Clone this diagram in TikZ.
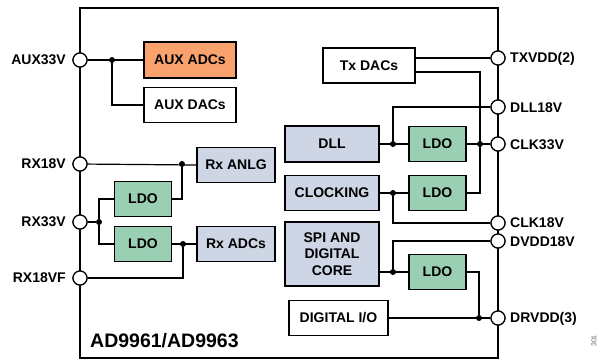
\documentclass[tikz,border=0pt]{standalone}
\usepackage{fontspec}
\setmainfont{Liberation Sans}
\definecolor{orangefill}{RGB}{250,162,110}
\definecolor{bluefill}{RGB}{206,213,228}
\definecolor{greenfill}{RGB}{155,207,180}
\begin{document}
\begin{tikzpicture}[x=1pt,y=-1pt,
  font=\fontsize{14}{16.7}\selectfont\bfseries,
  blk/.style={draw,line width=1.4pt,inner sep=0pt,align=center},
  ldo/.style={blk,fill=greenfill,minimum width=57pt,minimum height=35pt},
  bluebox/.style={blk,fill=bluefill},
  pinc/.style={circle,draw,fill=white,line width=1.2pt,minimum size=14pt,inner sep=0pt},
  dot/.style={circle,fill=black,minimum size=6pt,inner sep=0pt},
  wire/.style={line width=1.2pt},
  lbl/.style={inner sep=0pt}]
\useasboundingbox (0,0) rectangle (599,360);
% outer box
\draw[line width=1.6pt] (80,8) rectangle (498,358);
% boxes
\node[blk,fill=orangefill,minimum width=92pt,minimum height=36pt] (auxadc) at (190,60) {AUX ADCs};
\node[blk,fill=white,minimum width=92pt,minimum height=35pt] (auxdac) at (190,105) {AUX DACs};
\node[bluebox,minimum width=78pt,minimum height=35pt] (rxanlg) at (236,165) {Rx ANLG};
\node[bluebox,minimum width=78pt,minimum height=35pt] (rxadc) at (236,244) {Rx ADCs};
\node[ldo] (ldoa) at (143,199) {LDO};
\node[ldo] (ldob) at (143,244) {LDO};
\node[blk,fill=white,minimum width=92pt,minimum height=35pt] (txdac) at (369,65.5) {Tx DACs};
\node[bluebox,minimum width=94pt,minimum height=36pt] (dll) at (332,144) {DLL};
\node[ldo] (ldodll) at (437.5,144) {LDO};
\node[bluebox,minimum width=94pt,minimum height=35pt] (clk) at (332,193) {CLOCKING};
\node[ldo] (ldoclk) at (437.5,193) {LDO};
\node[bluebox,minimum width=94pt,minimum height=64pt] (spi) at (332,254) {SPI AND\\DIGITAL\\CORE};
\node[ldo] (ldospi) at (437.5,272) {LDO};
\node[blk,fill=white,minimum width=99pt,minimum height=35pt] (dio) at (338.5,318) {DIGITAL I/O};
% pins
\node[pinc] (paux) at (80,60) {};
\node[pinc] (prx18) at (80,164) {};
\node[pinc] (prx33) at (80,222) {};
\node[pinc] (prx18f) at (80,278) {};
\node[pinc] (ptx) at (498,58) {};
\node[pinc] (pdll) at (498,107) {};
\node[pinc] (pclk33) at (498,144) {};
\node[pinc] (pclk18) at (498,223) {};
\node[pinc] (pdvdd) at (498,241) {};
\node[pinc] (pdrvdd) at (498,318) {};
% pin labels
\node[lbl,anchor=east] (laux) at (66,60) {AUX33V};
\node[lbl,anchor=east] (lrx18) at (66,164) {RX18V};
\node[lbl,anchor=east] (lrx33) at (66,222) {RX33V};
\node[lbl,anchor=east] (lrx18f) at (66,278) {RX18VF};
\node[lbl,anchor=west] (ltx) at (510,59) {TXVDD(2)};
\node[lbl,anchor=west] (ldll) at (510,108) {DLL18V};
\node[lbl,anchor=west] (lclk33) at (510,145) {CLK33V};
\node[lbl,anchor=west] (lclk18) at (510,223) {CLK18V};
\node[lbl,anchor=west] (ldvdd) at (510,242) {DVDD18V};
\node[lbl,anchor=west] (ldrvdd) at (510,319) {DRVDD(3)};
% title
\node[lbl,anchor=base west,font=\fontsize{19.5}{22}\selectfont\bfseries] (title) at (90,347) {AD9961/AD9963};
\node[lbl,rotate=90,font=\fontsize{7}{8}\selectfont,text=black!60] (fig) at (594,341) {301};
% dots
\node[dot] (d1) at (112,60) {};
\node[dot] (d2) at (182,164) {};
\node[dot] (d3) at (99,222) {};
\node[dot] (d4) at (183,244) {};
\node[dot] (d5) at (393,144) {};
\node[dot] (d6) at (480,144) {};
\node[dot] (d7) at (393,193) {};
\node[dot] (d8) at (393,272) {};
\node[dot] (d9) at (479,318) {};
% wires
\draw[wire] (paux) -- (auxadc.west);
\draw[wire] (d1) |- (auxdac.west);
\draw[wire] (prx18) -- (rxanlg.west);
\draw[wire] (ldoa.east) -| (d2);
\draw[wire] (prx33) -- (d3);
\draw[wire] (d3) |- (ldoa.west);
\draw[wire] (d3) |- (ldob.west);
\draw[wire] (ldob.east) -- (rxadc.west);
\draw[wire] (d4) |- (prx18f);
\draw[wire] (txdac.east |- ptx) -- (ptx);
\coordinate (txb) at (txdac.east |- 0,72);
\draw[wire] (txb) -| (d6);
\draw[wire] (d6) |- (ldoclk.east);
\draw[wire] (pdll) -| (d5);
\draw[wire] (dll.east) -- (ldodll.west);
\draw[wire] (ldodll.east) -- (pclk33);
\draw[wire] (clk.east) -- (ldoclk.west);
\draw[wire] (d7) |- (pclk18);
\draw[wire] (spi.east |- ldospi) -- (ldospi.west);
\draw[wire] (d8) |- (pdvdd);
\draw[wire] (ldospi.east) -| (d9);
\draw[wire] (dio.east) -- (pdrvdd);
% redraw pins on top
\foreach \p in {paux,prx18,prx33,prx18f,ptx,pdll,pclk33,pclk18,pdvdd,pdrvdd}
  \node[pinc] at (\p) {};
\end{tikzpicture}
\end{document}
